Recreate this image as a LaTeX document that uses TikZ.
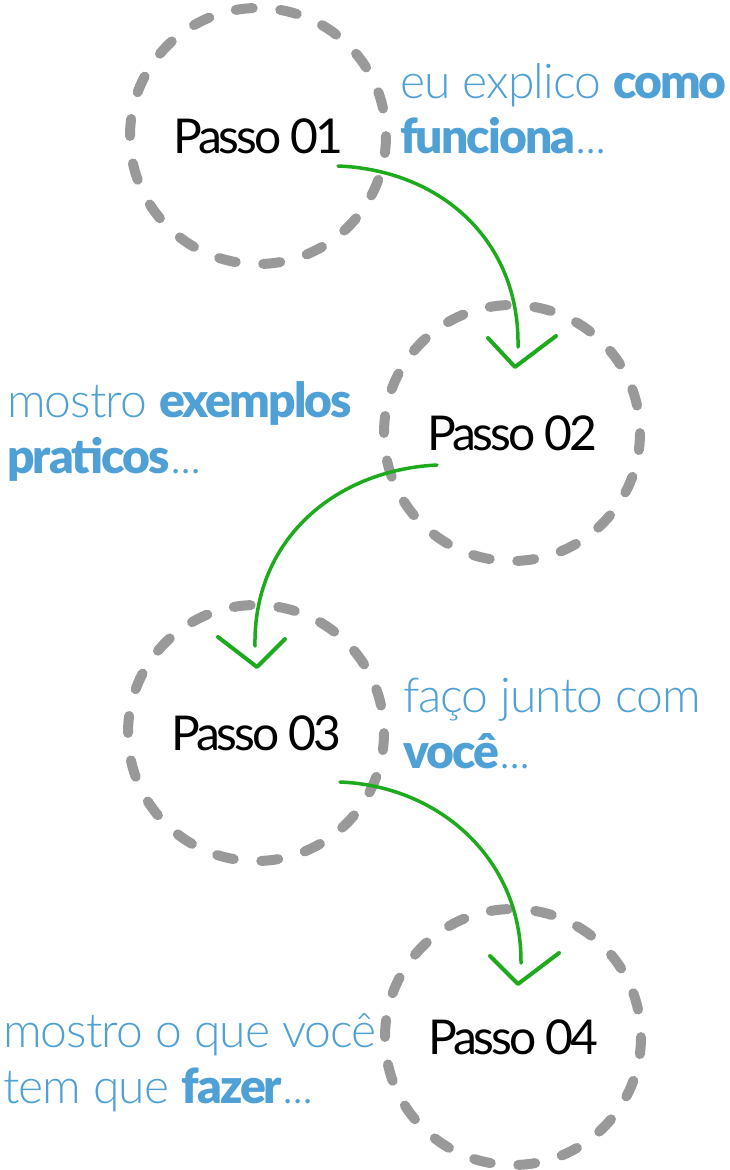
\documentclass[tikz,border=0pt]{standalone}
\usepackage{fontspec}
\setmainfont{Lato}
\newfontfamily\lightfont[LetterSpace=-2]{Lato Light}
\newfontfamily\boldfont[LetterSpace=-4]{Lato Black}
\newfontfamily\passofont[LetterSpace=-6.5]{Lato}
\usetikzlibrary{positioning,calc}
\definecolor{passogray}{HTML}{999999}
\definecolor{textblue}{HTML}{4FA0D5}
\definecolor{arrowgreen}{HTML}{1DAA1D}
\newcommand\forte[1]{{\boldfont #1}}

\begin{document}
\begin{tikzpicture}[x=1pt,y=-1pt,
    passo/.style={circle, draw=passogray, line width=10pt, line cap=round,
      dash pattern=on 17pt off 27.68pt, dash phase=17pt, minimum size=256pt,
      inner sep=0pt, font=\fontsize{48}{48}\passofont},
    desc/.style={anchor=base west, inner sep=0pt, text=textblue,
      font=\fontsize{48}{48}\lightfont},
    seta/.style={draw=arrowgreen, line width=3.5pt, line cap=round},
    ponta/.style={draw=arrowgreen, line width=4pt, line cap=round, line join=round}]
  \useasboundingbox (0,0) rectangle (730,1170);
  % passos
  \node[passo] (c1) at (258,136) {Passo 01};
  \node[passo] (c2) at (512,433) {Passo 02};
  \node[passo] (c3) at (256,733) {Passo 03};
  \node[passo] (c4) at (513,1037) {Passo 04};
  % textos
  \node[desc] (e1) at (400,98) {eu explico \forte{como}};
  \node[desc] (e2) at ($(e1.base west)+(0,55)$) {\forte{funciona}...};
  \node[desc] (m1) at (7,417) {mostro \forte{exemplos}};
  \node[desc] (m2) at ($(m1.base west)+(0,56)$) {\forte{praticos}...};
  \node[desc] (f1) at (403,712) {faço junto com};
  \node[desc] (f2) at ($(f1.base west)+(0,56)$) {\forte{você}...};
  \node[desc] (o1) at (3,1047) {mostro o que você};
  \node[desc] (o2) at ($(o1.base west)+(0,56)$) {tem que \forte{fazer}...};
  % setas
  \coordinate (s1) at ($(c1)+(80,30)$);
  \coordinate (t1) at ($(c2)+(6,-86)$);
  \coordinate (s2) at ($(c2)+(-75,32)$);
  \coordinate (t2) at ($(c3)+(-1,-87)$);
  \coordinate (s3) at ($(c3)+(84,49)$);
  \coordinate (t3) at ($(c4)+(8,-74)$);
  \draw[seta] (s1) .. controls +(102,4) and +(2,-107) .. (t1);
  \draw[seta] (s2) .. controls +(-102,5) and +(-2,-106) .. (t2);
  \draw[seta] (s3) .. controls +(100,4) and +(1,-103) .. (t3);
  \draw[ponta] ($(c2)+(-24,-95)$) -- ($(c2)+(3,-66)$) -- ($(c2)+(44,-97)$);
  \draw[ponta] ($(c3)+(-38,-96)$) -- ($(c3)+(1,-66)$) -- ($(c3)+(29,-94)$);
  \draw[ponta] ($(c4)+(-23,-81)$) -- ($(c4)+(5,-53)$) -- ($(c4)+(46,-84)$);
\end{tikzpicture}
\end{document}
